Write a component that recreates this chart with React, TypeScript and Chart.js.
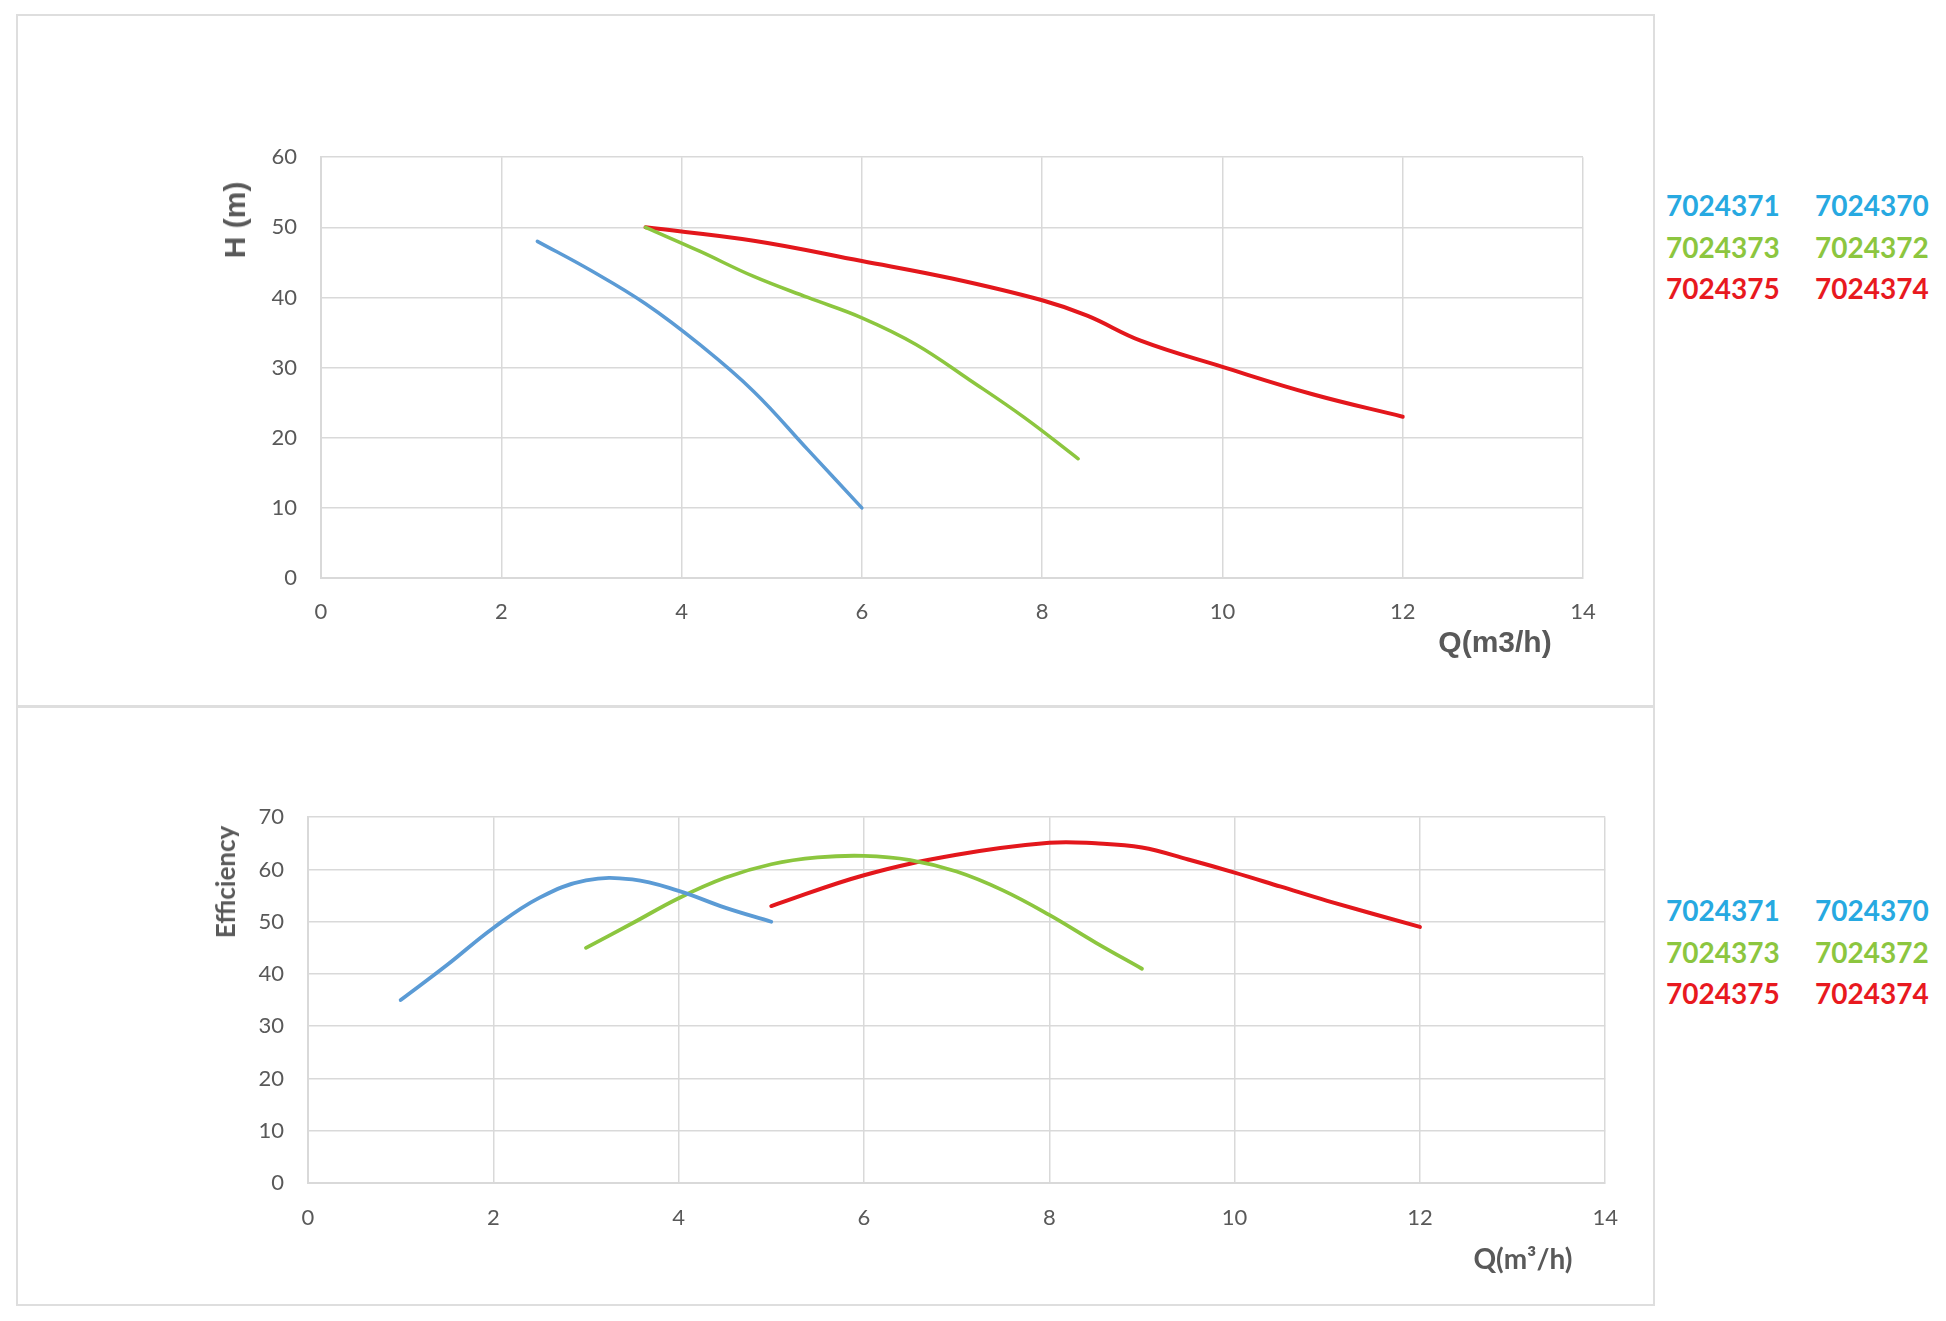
import { useEffect, useRef } from "react"
import Chart from "chart.js/auto"

// Head curve H(Q)
const headQBlue = [2.4, 3, 3.6, 4.2, 4.8, 5.4, 6]
const headBlue = [48, 43.8, 39.1, 33.3, 26.6, 18.3, 10]
const headQGreen = [3.6, 4.2, 4.8, 5.4, 6, 6.6, 7.2, 7.8, 8.4]
const headGreen = [50, 46.6, 43, 40, 37.1, 33.3, 28.2, 22.9, 17]
const headQRed = [3.6, 4.8, 6, 7, 8, 8.5, 9.1, 10, 11, 12]
const headRed = [50, 48.1, 45.2, 42.7, 39.6, 37.4, 33.8, 30.1, 26.2, 23]

// Efficiency curve
const effQBlue = [1, 1.5, 2, 2.5, 3, 3.5, 4, 4.5, 5]
const effBlue = [35, 41.7, 48.8, 54.6, 57.9, 58.1, 55.9, 52.7, 50]
const effQGreen = [3, 3.5, 4, 4.5, 5, 5.5, 6, 6.5, 7, 7.5, 8, 8.5, 9]
const effGreen = [45, 49.7, 54.5, 58.4, 61, 62.3, 62.6, 61.8, 59.6, 56, 51.3, 46, 41]
const effQRed = [5, 6, 7, 8, 8.5, 9, 9.5, 10, 10.5, 11, 12]
const effRed = [53, 58.9, 62.8, 65.1, 65, 64.2, 61.9, 59.4, 56.7, 54, 49]

// legend models
const legendLeft = ["7024371", "7024373", "7024375"]
const legendRight = ["7024370", "7024372", "7024374"]
const legendColors = ["#27a9e1", "#8cc63f", "#e8191f"]

const lineColors = ["#5b9bd5", "#8cc63f", "#e3171c"]
const gridColor = "#d9d9d9"
const tickColor = "#595959"

const toPoints = (xs: number[], ys: number[]) => xs.map((x, i) => ({ x, y: ys[i] }))

interface CurveChartProps {
    curves: { x: number[]; y: number[]; width: number }[]
    yMax: number
    yWidth: number
    xHeight: number
    padTop: number
    padRight: number
    tickPad: number
    style: React.CSSProperties
}

function CurveChart({ curves, yMax, yWidth, xHeight, padTop, padRight, tickPad, style }: CurveChartProps) {
    const canvasRef = useRef<HTMLCanvasElement | null>(null)

    useEffect(() => {
        if (!canvasRef.current) return
        const tickFont = { family: "Lato", size: 22 }

        const chart = new Chart(canvasRef.current, {
            type: "line",
            data: {
                datasets: curves.map((c, i) => ({
                    data: toPoints(c.x, c.y),
                    borderColor: lineColors[i],
                    borderWidth: c.width,
                    pointRadius: 0,
                    fill: false,
                    tension: 0.4,
                    borderCapStyle: "round" as const,
                })),
            },
            options: {
                animation: false,
                responsive: true,
                maintainAspectRatio: false,
                layout: { padding: { top: padTop, right: padRight, left: 0, bottom: 0 } },
                plugins: { legend: { display: false }, tooltip: { enabled: false } },
                scales: {
                    x: {
                        type: "linear",
                        min: 0,
                        max: 14,
                        ticks: { stepSize: 2, color: tickColor, font: tickFont, padding: tickPad },
                        grid: { color: gridColor, lineWidth: 1.5, drawTicks: false },
                        border: { color: gridColor, width: 2 },
                        afterFit: (scale) => {
                            scale.height = xHeight
                        },
                    },
                    y: {
                        min: 0,
                        max: yMax,
                        ticks: { stepSize: 10, color: tickColor, font: tickFont, padding: 24 },
                        grid: { color: gridColor, lineWidth: 1.5, drawTicks: false },
                        border: { color: gridColor, width: 2 },
                        afterFit: (scale) => {
                            scale.width = yWidth
                        },
                    },
                },
            },
        })

        return () => chart.destroy()
    }, [curves, yMax, yWidth, xHeight, padTop, padRight, tickPad])

    return (
        <div style={{ position: "absolute", ...style }}>
            <canvas ref={canvasRef} />
        </div>
    )
}

const headCurves = [
    { x: headQBlue, y: headBlue, width: 3.5 },
    { x: headQGreen, y: headGreen, width: 3.5 },
    { x: headQRed, y: headRed, width: 4 },
]

const effCurves = [
    { x: effQBlue, y: effBlue, width: 3.8 },
    { x: effQGreen, y: effGreen, width: 3.8 },
    { x: effQRed, y: effRed, width: 4 },
]

function Legend({ top }: { top: number }) {
    const rows = [0, 1, 2]
    return (
        <>
            {rows.map((r) => (
                <div key={"l" + r}>
                    <div style={{ ...legendText, left: 1666, top: top + r * 41.5, color: legendColors[r] }}>{legendLeft[r]}</div>
                    <div style={{ ...legendText, left: 1815, top: top + r * 41.5, color: legendColors[r] }}>{legendRight[r]}</div>
                </div>
            ))}
        </>
    )
}

const legendText: React.CSSProperties = {
    position: "absolute",
    fontFamily: "Lato",
    fontWeight: 700,
    fontSize: 28,
    lineHeight: "32px",
    transform: "translateY(-50%)",
    whiteSpace: "nowrap",
}

const axisTitle = (cx: number, cy: number, rotate: boolean, font: string, size: number): React.CSSProperties => ({
    position: "absolute",
    left: cx,
    top: cy,
    transform: `translate(-50%, -50%)${rotate ? " rotate(-90deg)" : ""}`,
    fontFamily: font,
    fontWeight: 700,
    fontSize: size,
    lineHeight: 1,
    color: tickColor,
    whiteSpace: "nowrap",
})

const panel: React.CSSProperties = {
    position: "absolute",
    left: 16,
    width: 1639,
    border: "2px solid #dedede",
    boxSizing: "border-box",
}

export default function App() {
    return (
        <div style={{ position: "absolute", left: 0, top: 0, width: 1946, height: 1321, background: "#fff", overflow: "hidden" }}>
            <div style={{ ...panel, top: 14, height: 693 }} />
            <div style={{ ...panel, top: 706, height: 600 }} />

            <CurveChart
                curves={headCurves}
                yMax={60}
                yWidth={121}
                xHeight={62}
                padTop={35}
                padRight={37}
                tickPad={21}
                style={{ left: 200, top: 120, width: 1420, height: 520 }}
            />
            <div style={axisTitle(235, 220, true, "Liberation Sans", 30)}>H (m)</div>
            <div style={axisTitle(1495, 642, false, "Liberation Sans", 30)}>Q(m3/h)</div>
            <Legend top={205} />

            <CurveChart
                curves={effCurves}
                yMax={70}
                yWidth={108}
                xHeight={67}
                padTop={36}
                padRight={31}
                tickPad={22}
                style={{ left: 200, top: 780, width: 1440, height: 470 }}
            />
            <div style={axisTitle(225, 882, true, "Lato", 26)}>Efficiency</div>
            <div style={axisTitle(1523, 1258, false, "Lato", 28)}>Q(m³/h)</div>
            <Legend top={910} />
        </div>
    )
}
